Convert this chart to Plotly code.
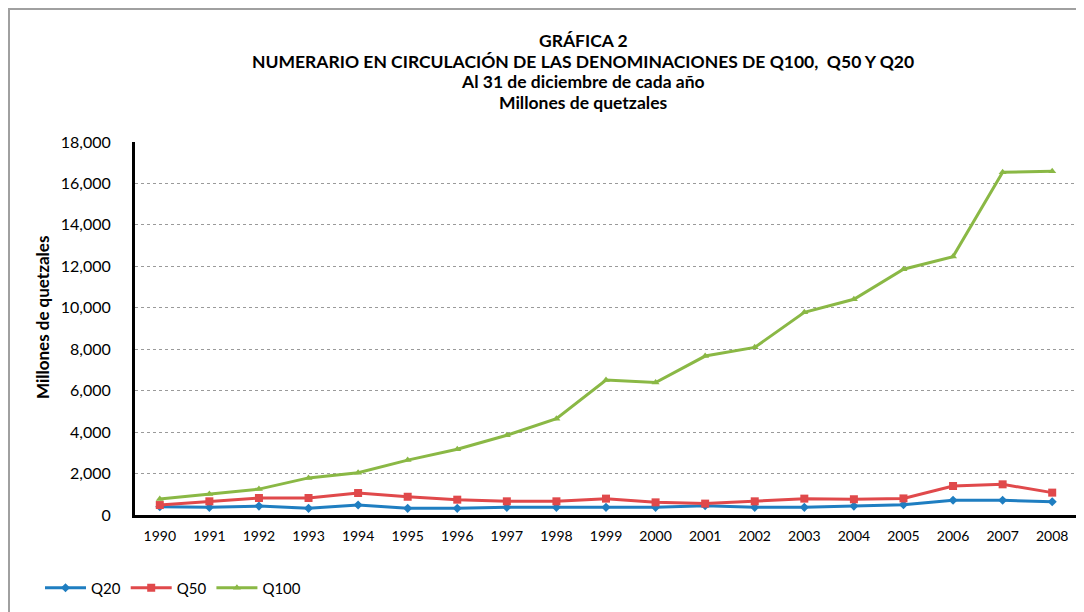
import plotly.graph_objects as go

years = [str(y) for y in range(1990, 2009)]
q20 = [400, 370, 430, 320, 480, 320, 320, 370, 370, 370, 370, 450, 370, 370, 430, 500, 710, 710, 640]
q50 = [480, 660, 820, 820, 1060, 880, 740, 660, 660, 790, 610, 550, 660, 790, 760, 800, 1400, 1480, 1080]
q100 = [770, 1010, 1250, 1790, 2040, 2650, 3170, 3850, 4650, 6510, 6390, 7670, 8090, 9780, 10410, 11860, 12470, 16540, 16590]
y_ticks = list(range(0, 18001, 2000))

FONT = "Lato"
OFF = 8  # page body offset
W, H = 1084 - OFF, 612 - OFF
PL, PR, PT, PB = 135, 1077, 142, 515  # target plot-area pixels in the screenshot
PW, PH = PR - PL, PB - PT


def px(x):
    return (x - PL) / PW


def py(y):
    return (PB - y) / PH


fig = go.Figure()
series = [
    ("Q20", q20, "#1F7EC1", "diamond", 7),
    ("Q50", q50, "#E0494B", "square", 8),
    ("Q100", q100, "#8AB845", "triangle-up", 7),
]
for name, vals, col, sym, sz in series:
    fig.add_trace(go.Scatter(x=years, y=vals, name=name, mode="lines+markers",
                             line=dict(color=col, width=3),
                             marker=dict(symbol=sym, size=sz, color=col)))

fig.update_layout(
    width=W, height=H,
    margin=dict(l=PL - OFF, r=W - (PR - OFF), t=PT - OFF, b=H - (PB - OFF)),
    paper_bgcolor="white", plot_bgcolor="white",
    font=dict(family=FONT, color="black", size=13),
    showlegend=True,
    legend=dict(orientation="h", x=px(40), xanchor="left", y=py(588), yanchor="middle",
                font=dict(size=15), itemwidth=41, tracegroupgap=0),
    xaxis=dict(type="category", range=[-0.5, len(years) - 0.5], showline=True,
               linecolor="black", linewidth=3,
               showgrid=False, ticks="", tickfont=dict(size=14), ticklabelstandoff=6),
    yaxis=dict(range=[0, 18000], tickvals=y_ticks, tickformat=",", showline=True,
               linecolor="black", linewidth=3, showgrid=True, gridcolor="#9a9a9a",
               griddash="dot", gridwidth=1, ticks="", tickfont=dict(size=16),
               ticklabelstandoff=18, zeroline=False),
    shapes=[dict(type="rect", xref="paper", yref="paper",
                 x0=px(9), x1=px(1100), y0=py(640), y1=py(9),
                 line=dict(color="#a0a0a0", width=2))],
)

titles = ["GRÁFICA 2",
          "NUMERARIO EN CIRCULACIÓN DE LAS DENOMINACIONES DE Q100,  Q50 Y Q20",
          "Al 31 de diciembre de cada año",
          "Millones de quetzales"]
for txt, yy in zip(titles, [40, 61, 82, 103]):
    fig.add_annotation(text="<b>" + txt + "</b>", xref="paper", yref="paper",
                       x=px(583), y=py(yy), showarrow=False,
                       xanchor="center", yanchor="middle", font=dict(size=17.5))
fig.add_annotation(text="<b>Millones de quetzales</b>", xref="paper", yref="paper",
                   x=px(42), y=py(318), textangle=-90,
                   showarrow=False, xanchor="center", yanchor="middle",
                   font=dict(size=17))

fig.write_html("out.html")
